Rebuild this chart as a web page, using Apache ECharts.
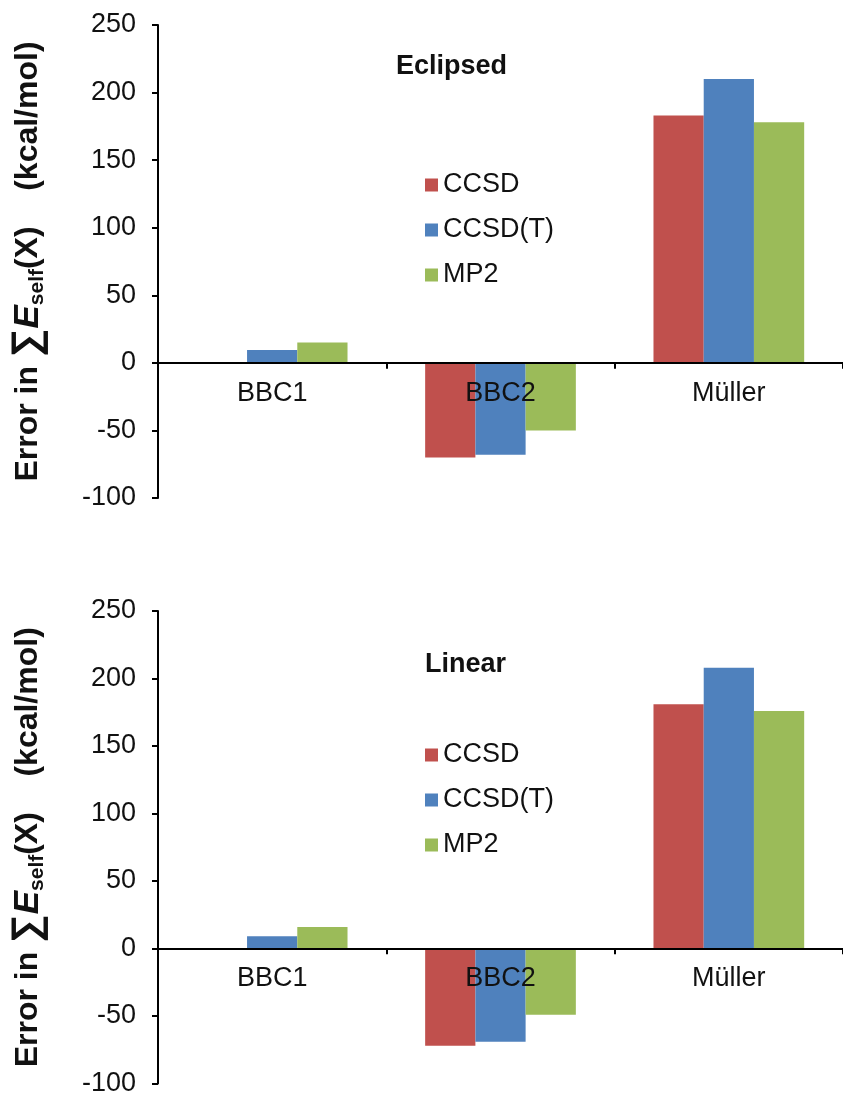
<!DOCTYPE html>
<html>
<head>
<meta charset="utf-8">
<title>Error in sum of self energies</title>
<script src="https://cdn.jsdelivr.net/npm/echarts@6/dist/echarts.min.js"></script>
<style>
  html, body { margin: 0; padding: 0; background: #fff; }
  #chart { width: 843px; height: 1097px; }
</style>
</head>
<body>
<div id="chart"></div>
<script>
// data (kcal/mol)
const categories = ['BBC1', 'BBC2', 'Müller'];
const methods = ['CCSD', 'CCSD(T)', 'MP2'];
const eclipsedCCSD = [0, -70, 183];
const eclipsedCCSDT = [9.5, -68, 210];
const eclipsedMP2 = [15, -50, 178];
const linearCCSD = [0, -72, 181];
const linearCCSDT = [9, -69, 208];
const linearMP2 = [16, -49, 176];
const yTicks = { min: -100, max: 250, step: 50 };

const colors = ['#C0504D', '#4F81BD', '#9BBB59'];
const font = '"Liberation Sans", Arial, sans-serif';
const plotHeight = 473;

const chart = echarts.init(document.getElementById('chart'));

function grid(top) {
  return { left: 153, right: -6, top: top, height: plotHeight };
}

function xAxis(idx) {
  // put the category axis on y = 0, labels included
  const zeroOffset = -plotHeight * (0 - yTicks.min) / (yTicks.max - yTicks.min);
  return {
    type: 'category',
    gridIndex: idx,
    data: categories,
    position: 'bottom',
    offset: zeroOffset,
    z: 10,
    axisLine: { onZero: false, lineStyle: { color: '#000', width: 2 } },
    axisTick: { show: true, length: 6, lineStyle: { color: '#000', width: 2 } },
    axisLabel: { color: '#111', fontSize: 27, fontFamily: font, margin: 17 },
    splitLine: { show: false }
  };
}

function yAxis(idx) {
  return {
    type: 'value',
    gridIndex: idx,
    min: yTicks.min,
    max: yTicks.max,
    interval: yTicks.step,
    name: '{a|Error in }{sig|∑}{e|E}{s|self}{a|(X)    (kcal/mol)}',
    nameLocation: 'middle',
    nameRotate: 90,
    nameGap: 110,
    nameTextStyle: {
      color: '#111',
      fontFamily: font,
      fontWeight: 'bold',
      fontSize: 32,
      rich: {
        a: { fontSize: 32, fontWeight: 'bold', fontFamily: font, color: '#111', lineHeight: 40 },
        sig: { fontSize: 40, fontFamily: font, color: '#111', lineHeight: 40 },
        e: { fontSize: 35, fontWeight: 'bold', fontStyle: 'italic', fontFamily: font, color: '#111', lineHeight: 40 },
        s: { fontSize: 21, fontWeight: 'bold', fontFamily: font, color: '#111', lineHeight: 40, verticalAlign: 'bottom', padding: [15, 0, 0, 0] }
      }
    },
    axisLine: { show: true, lineStyle: { color: '#000', width: 2 } },
    axisTick: { show: true, length: 6, lineStyle: { color: '#000', width: 2 } },
    axisLabel: { color: '#111', fontSize: 27, fontFamily: font, margin: 22 },
    splitLine: { show: false }
  };
}

function bars(idx, sets) {
  return sets.map(function (vals, i) {
    return {
      name: methods[i],
      type: 'bar',
      xAxisIndex: idx,
      yAxisIndex: idx,
      data: vals,
      barGap: '0%',
      barCategoryGap: '34%',
      itemStyle: { color: colors[i] }
    };
  });
}

function legend(top) {
  return {
    data: methods,
    orient: 'vertical',
    left: 420,
    top: top,
    icon: 'rect',
    itemWidth: 13,
    itemHeight: 13,
    itemGap: 15,
    textStyle: { color: '#111', fontSize: 27, fontFamily: font, lineHeight: 30 }
  };
}

const option = {
  backgroundColor: '#fff',
  animation: false,
  color: colors,
  title: [
    { text: 'Eclipsed', left: 391, top: 48, textStyle: { fontSize: 27, fontWeight: 'bold', color: '#111', fontFamily: font } },
    { text: 'Linear', left: 420, top: 646, textStyle: { fontSize: 27, fontWeight: 'bold', color: '#111', fontFamily: font } }
  ],
  legend: [legend(165), legend(735)],
  grid: [grid(25), grid(611)],
  xAxis: [xAxis(0), xAxis(1)],
  yAxis: [yAxis(0), yAxis(1)],
  series: bars(0, [eclipsedCCSD, eclipsedCCSDT, eclipsedMP2])
    .concat(bars(1, [linearCCSD, linearCCSDT, linearMP2]))
};

chart.setOption(option);
</script>
</body>
</html>
